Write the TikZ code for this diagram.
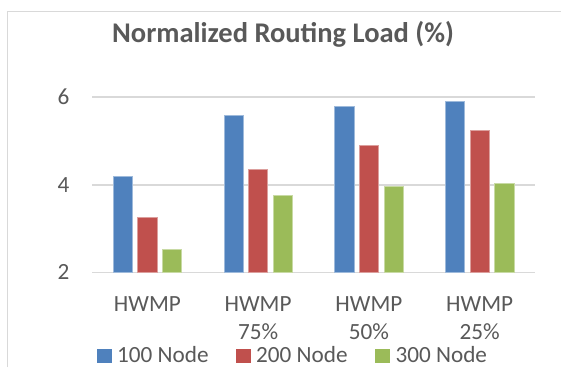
\documentclass[tikz,border=0pt]{standalone}
\usepackage{fontspec}
\setmainfont{Carlito}
\definecolor{txt}{HTML}{595959}
\definecolor{gridc}{HTML}{D9D9D9}
\definecolor{cA}{HTML}{4F81BD}
\definecolor{cB}{HTML}{C0504D}
\definecolor{cC}{HTML}{9BBB59}
\begin{document}
\begin{tikzpicture}[x=1pt,y=-1pt,
  framel/.style={draw=gridc,line width=1.2pt},
  gridl/.style={draw=gridc,line width=1.5pt},
  lbl/.style={text=txt,font=\fontsize{23.2}{26}\selectfont,inner sep=0pt},
  ttl/.style={text=txt,font=\fontsize{28.5}{32}\selectfont\bfseries,inner sep=0pt},
  barA/.style={fill=cA,draw=cA!55!white,line width=0.6pt},
  barB/.style={fill=cB,draw=cB!55!white,line width=0.6pt},
  barC/.style={fill=cC,draw=cC!55!white,line width=0.6pt}]
\useasboundingbox (0,0) rectangle (561,367);
\fill[white] (0,0) rectangle (561,367);
\draw[framel] (7.3,367) -- (7.3,11.7) -- (561,11.7);
% title
\node[ttl,anchor=base] (title) at (283,42.7) {Normalized Routing Load (\%)};
% grid
\foreach \v/\yy in {2/272.5,4/184.75,6/97}{
  \draw[gridl] (92,\yy) -- (535,\yy);
  \node[lbl,anchor=base east] (t\v) at (69.5,\yy+7.3) {\v};
}
% bars
\foreach \i/\a/\b/\c in {0/4.2/3.25/2.54, 1/5.58/4.35/3.75, 2/5.79/4.89/3.97, 3/5.9/5.25/4.03}{
  \pgfmathsetmacro{\gc}{92+110.75*(\i+0.5)}
  \pgfmathsetmacro{\ya}{272.5-(\a-2)*43.875}
  \pgfmathsetmacro{\yb}{272.5-(\b-2)*43.875}
  \pgfmathsetmacro{\yc}{272.5-(\c-2)*43.875}
  \path[barA] (\gc-24.65-9.65,272.5) rectangle (\gc-24.65+9.65,\ya);
  \path[barB] (\gc-9.65,272.5) rectangle (\gc+9.65,\yb);
  \path[barC] (\gc+24.65-9.65,272.5) rectangle (\gc+24.65+9.65,\yc);
}
% category labels
\node[lbl,anchor=base] (c1) at (147.4,311) {HWMP};
\node[lbl,anchor=base] (c2) at (258.1,311) {HWMP};
\node[lbl,anchor=base] (c2b) at (258.1,339) {75\%};
\node[lbl,anchor=base] (c3) at (368.9,311) {HWMP};
\node[lbl,anchor=base] (c3b) at (368.9,339) {50\%};
\node[lbl,anchor=base] (c4) at (479.6,311) {HWMP};
\node[lbl,anchor=base] (c4b) at (479.6,339) {25\%};
% legend
\fill[cA] (97,348.5) rectangle (111.5,362.5);
\node[lbl,anchor=base west] (l1) at (117,362) {100 Node};
\fill[cB] (236,348.5) rectangle (250.5,362.5);
\node[lbl,anchor=base west] (l2) at (256,362) {200 Node};
\fill[cC] (375,348.5) rectangle (389.5,362.5);
\node[lbl,anchor=base west] (l3) at (395.3,362) {300 Node};
\end{tikzpicture}
\end{document}
